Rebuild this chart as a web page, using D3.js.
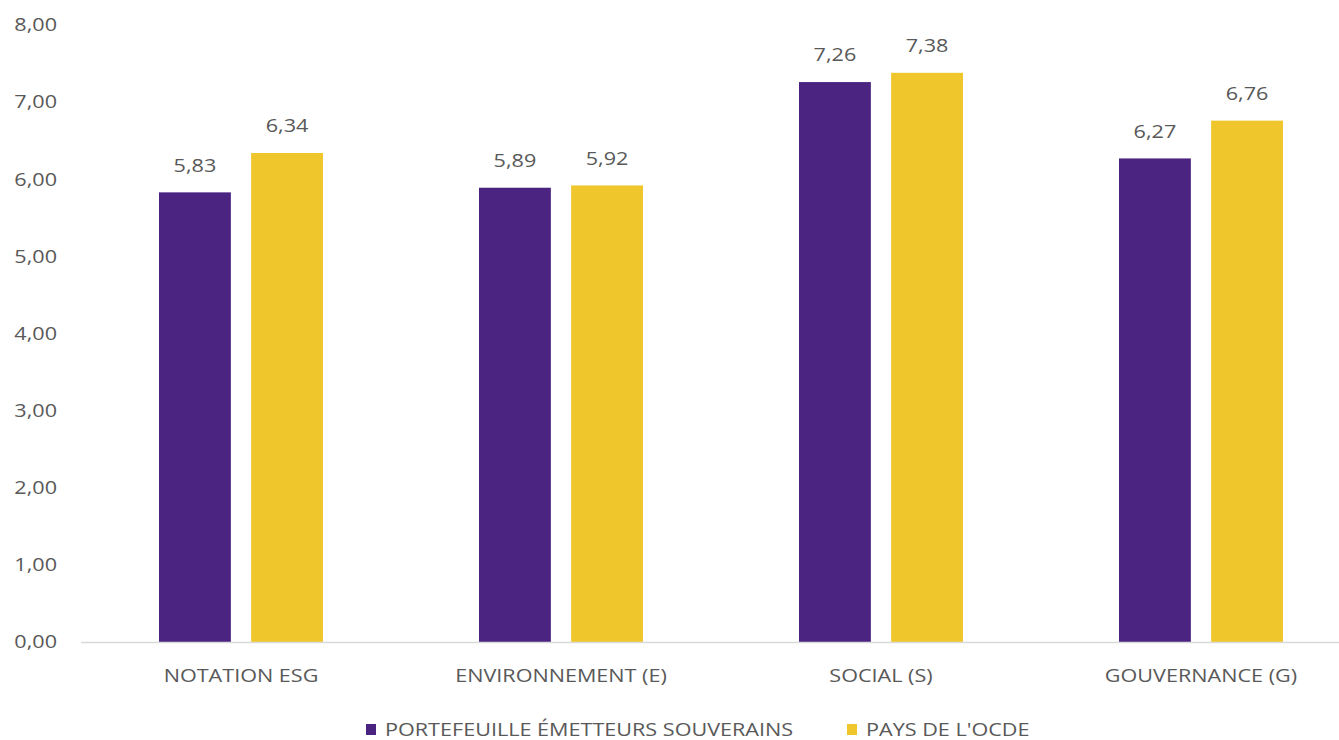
<!DOCTYPE html>
<html>
<head>
<meta charset="utf-8">
<script src="https://cdn.jsdelivr.net/npm/d3@7"></script>
<style>
  html, body { margin: 0; padding: 0; background: #fff; }
  svg { display: block; }
  text { font-family: "Open Sans", Lato, sans-serif; fill: #595959; font-size: 18px; }
</style>
</head>
<body>
<svg id="chart" width="1339" height="740"></svg>
<script>
// Categories, series and tick values
const categories = ["NOTATION ESG", "ENVIRONNEMENT (E)", "SOCIAL (S)", "GOUVERNANCE (G)"];
const seriesNames = ["PORTEFEUILLE ÉMETTEURS SOUVERAINS", "PAYS DE L'OCDE"];
const portefeuille = [5.83, 5.89, 7.26, 6.27];
const ocde = [6.34, 5.92, 7.38, 6.76];
const yTicks = [0, 1, 2, 3, 4, 5, 6, 7, 8];

const colors = ["#4B2380", "#EFC62B"];
const series = [portefeuille, ocde];

// labels use a slightly widened face
const SX = 1.2;

const svg = d3.select("#chart");
const fmt = v => d3.format(".2f")(v).replace(".", ",");

// places a text at (x, y) with horizontal widening
function label(sel, x, y, anchor) {
  const g = sel.append("g").attr("transform", `translate(${x},${y}) scale(${SX},1)`);
  return g.append("text").attr("dy", "0.35em").attr("text-anchor", anchor);
}

// band per category; the last band runs past the right edge of the canvas
const x0 = d3.scaleBand().domain(categories).range([81, 1361]).paddingInner(0).paddingOuter(0);
const x1 = d3.scaleBand().domain(d3.range(seriesNames.length))
  .range([78, 320 - 78]).paddingInner(0.22).paddingOuter(0);
const y = d3.scaleLinear().domain([0, 8]).range([642, 25]);

// y-axis tick labels
const yAxis = svg.append("g");
yTicks.forEach(t => label(yAxis, 57, y(t), "end").text(fmt(t)));

// bars
const bars = svg.append("g");
categories.forEach((c, i) => {
  series.forEach((s, k) => {
    const bx = x0(c) + x1(k);
    bars.append("rect")
      .attr("x", bx).attr("width", x1.bandwidth())
      .attr("y", y(s[i])).attr("height", y(0) - y(s[i]))
      .attr("fill", colors[k]);
    // value label above the bar
    label(bars, bx + x1.bandwidth() / 2, y(s[i]) - 27, "middle").text(fmt(s[i]));
  });
});

// baseline
svg.append("line").attr("x1", 81).attr("x2", 1339).attr("y1", y(0) + 0.5).attr("y2", y(0) + 0.5)
  .attr("stroke", "#d9d9d9").attr("stroke-width", 1.5);

// category labels
const xAxis = svg.append("g");
categories.forEach(c => label(xAxis, x0(c) + x0.bandwidth() / 2, 675.5, "middle").text(c));

// legend
const legendX = [366, 847];
const leg = svg.append("g");
seriesNames.forEach((name, i) => {
  leg.append("rect").attr("x", legendX[i]).attr("y", 724).attr("width", 10).attr("height", 11)
    .attr("fill", colors[i]);
  label(leg, legendX[i] + 19, 729.5, "start").text(name);
});
</script>
</body>
</html>
